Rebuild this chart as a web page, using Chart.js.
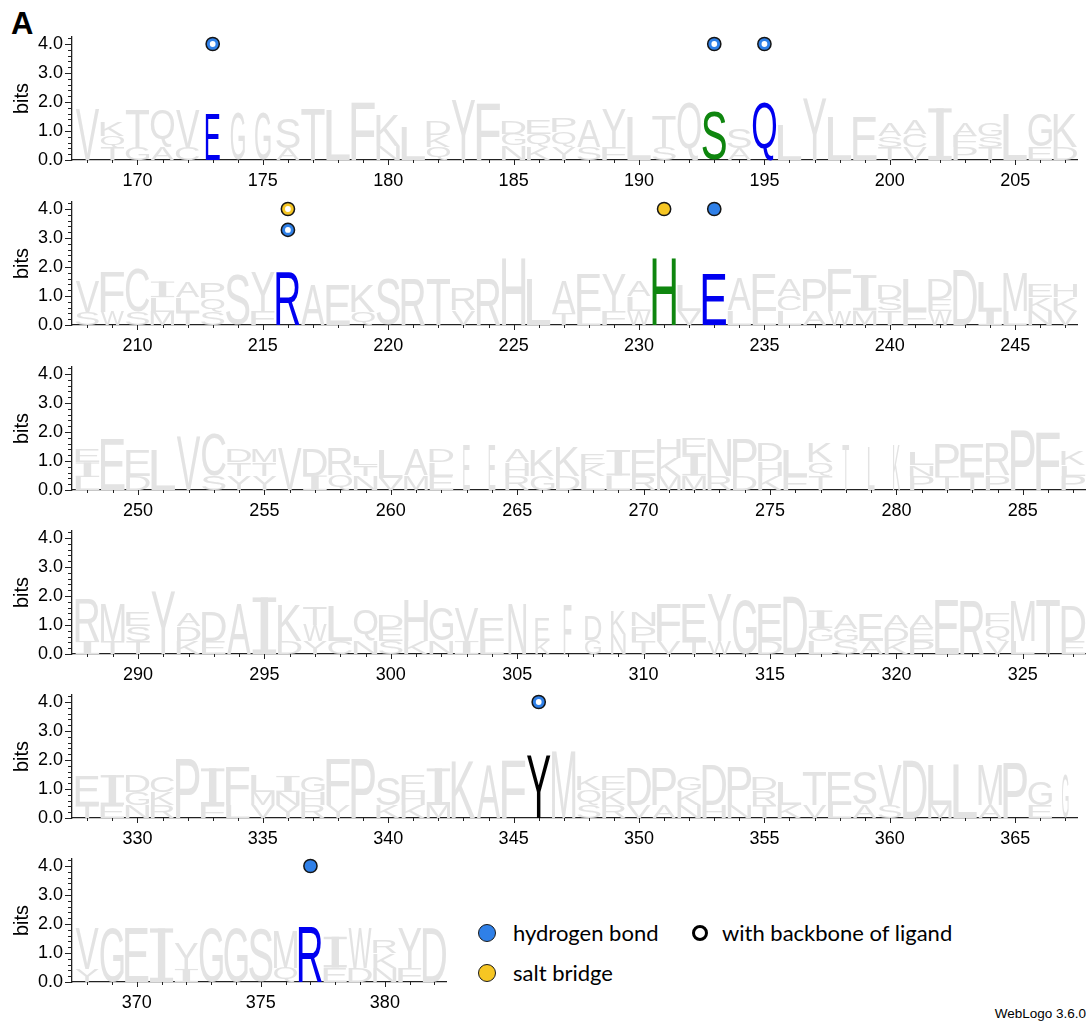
<!DOCTYPE html>
<html>
<head>
<meta charset="utf-8">
<script src="https://cdn.jsdelivr.net/npm/chart.js@4.4.1/dist/chart.umd.min.js"></script>
<style>
  html, body { margin: 0; padding: 0; background: #fff; }
  #wrap { position: relative; width: 1086px; height: 1023px; overflow: hidden; background: #fff; }
  #wrap canvas { position: absolute; left: 0; }
  .txt { position: absolute; white-space: nowrap; color: #000; }
  #panel { left: 11px; top: 6px; font: bold 31px "Liberation Sans", Arial, sans-serif; }
  #stamp { right: 0; top: 1006px; font: 13.5px "Liberation Sans", Arial, sans-serif; }
  .leg { font: 22px Lato, "Liberation Sans", sans-serif; line-height: 24px; }
  .dot { position: absolute; border-radius: 50%; box-sizing: border-box; }
</style>
</head>
<body>
<div id="wrap">
  <div class="txt" id="panel">A</div>
  <div class="dot" style="left:478px;top:924px;width:18px;height:18px;background:#2f80e8;border:1.5px solid #1a1a1a;"></div>
  <div class="txt leg" style="left:513px;top:921px;">hydrogen bond</div>
  <div class="dot" style="left:478px;top:964px;width:18px;height:18px;background:#f6c623;border:1.5px solid #1a1a1a;"></div>
  <div class="txt leg" style="left:513px;top:961px;">salt bridge</div>
  <div class="dot" style="left:692px;top:925px;width:16px;height:16px;background:#fff;border:3.5px solid #000;"></div>
  <div class="txt leg" style="left:722px;top:921px;">with backbone of ligand</div>
  <div class="txt" id="stamp">WebLogo 3.6.0</div>
</div>
<script>
// Residue numbering: each row starts here and holds one stack per residue.
const rowStarts = [168, 208, 248, 288, 328, 368];

// Stacks, bottom to top: letter followed by its height in bits.
const stacks168 = [
  "V1.78", "T.43 Q.40 K.50", "G.43 T1.33", "A.43 Q1.33", "C.43 V1.33",
  "E1.61", "G1.61", "G1.61", "A.40 S1.04", "T1.78",
  "L1.72", "F2.0", "N.5 K1.05", "L1.15", "Q.45 K.4 D.5",
  "Y2.07", "F1.95", "N.5 G.4 D.45", "K.45 Q.45 E.5", "Y.45 Q.5 P.5",
  "S.45 A.93", "F.45 Y1.33", "L1.5", "S.45 T1.05", "Q2.0",
  "S1.67", "A.4 S.7", "Q2.0", "L1.2", "Y2.1",
  "L1.5", "E1.5", "T.45 S.38 A.43", "V.45 C.45 A.48", "I1.78",
  "P.45 F.38 A.45", "T.45 S.38 G.45", "L1.6", "E.45 G1.15", "D.45 K1.15"
];
const stacks208 = [
  "S.46 V1.04", "W.46 F1.38", "S.46 C1.49", "M.46 L.5 I.54", "T.46 L.5 A.54",
  "S.46 Q.46 P.52", "S1.72", "F.46 Y1.38", "R1.84", "A1.38",
  "E1.38", "Q.46 K.92", "S1.6", "R1.6", "T1.6",
  "V.5 R.76", "R1.6", "H2.3", "L1.6", "T.4 A1.1",
  "L.5 E1.28", "F.5 Y1.28", "W.5 L.48 A.52", "H2.3", "V.5 L.88",
  "E1.78", "L.5 A1.1", "L.5 E1.28", "L.5 C.5 A.55", "A.5 P1.1",
  "W.5 F1.45", "M.5 I1.22", "T.5 S.4 D.48", "F.5 L1.1", "W.5 E.4 D.7",
  "D1.9", "I.5 L1.0", "L.5 M1.34", "N.5 K.45 E.43", "V.5 K.45 H.45"
];
const stacks248 = [
  "L.45 I.5 E.43", "E1.78", "D.5 E.88", "L1.38", "V1.84",
  "S.5 C1.45", "Y.5 T.45 D.43", "Y.5 T.45 M.43", "V1.44", "I.5 D.94",
  "Q.5 R.94", "N.5 T.35 L.3", "V.4 L.98", "M.5 A.88", "E.5 L.45 D.43",
  "E1.55", "E1.55", "R.5 H.45 A.45", "G.5 K.88", "D.5 K1.0",
  "L.5 K.4 E.36", "L.5 I.88", "R.5 E.88", "M.5 K.6 H.68", "M.5 I.7 E.58",
  "R.5 N1.28", "D.5 P1.28", "K.5 H.5 D.61", "F.5 L.88", "T.5 Q.45 K.66",
  "T1.55", "L1.5", "K1.55", "P.5 N.35 L.45", "T.5 P1.1",
  "T.5 E1.1", "P.5 R1.1", "P2.07", "F2.0", "P.5 L.35 K.5"
];
const stacks288 = [
  "I.45 R1.45", "T.45 M1.27", "T.45 S.5 E.47", "Y2.15", "K.45 D.5 A.42",
  "E.45 D.99", "A1.72", "I1.95", "D.45 K1.22", "Y.45 W.55 T.6",
  "C.45 L1.2", "N.45 Q1.05", "S.45 E.45 D.42", "K.45 H1.4", "N.45 G1.15",
  "I.45 V1.15", "L.45 E.8", "N1.72", "K.45 E.8", "F1.67",
  "G.5 D.85", "N.7 K.8", "T.45 P.5 N.5", "V.45 F1.27", "T.45 E1.27",
  "W.45 Y1.62", "G1.85", "D.45 E1.27", "D2.0", "L.45 G.45 I.6",
  "S.45 G.4 A.47", "A.45 E.93", "K.45 D.45 A.45", "P.45 E.45 A.45", "E1.85",
  "R1.85", "V.45 Q.5 F.45", "L.45 M1.38", "T1.85", "E.45 D1.2"
];
const stacks328 = [
  "T.45 E1.03", "E.45 I1.03", "N.45 G.45 D.55", "R.45 K.45 C.55", "P2.05",
  "F.45 I1.26", "L.45 F1.32", "V.45 M.45 L.55", "Y.45 N.45 I.55", "R.45 H.45 G.55",
  "Y.45 F1.6", "P2.05", "K.45 S.97", "K.45 H.45 E.55", "M.45 I1.26",
  "K1.94", "A1.83", "F2.0", "Y2.17", "M2.29",
  "S.45 Q.5 K.47", "R.45 K.5 E.47", "V.45 D1.26", "A.45 P1.26", "N.45 K.5 G.47",
  "H.45 D1.38", "N.45 P1.33", "T.45 R.5 D.42", "K.45 L.8", "V.45 T1.15",
  "L.45 E1.15", "A.45 S1.15", "S.45 V1.38", "D2.0", "M.45 L1.38",
  "L1.83", "A.45 M1.38", "P1.9", "E.45 G.8", "G1.48"
];
const stacks368 = [
  "Y.45 V1.4", "G1.85", "E1.85", "I1.85", "I.45 Y.88",
  "G1.85", "G1.85", "S1.85", "Q.5 M1.29", "R1.91",
  "E.5 I1.06", "D.5 W1.35", "N.5 K.5 R.45", "F.5 Y1.35", "D1.85"
];
const rowStacks = [stacks168, stacks208, stacks248, stacks288, stacks328, stacks368];

// Fraction of aligned sequences present at a residue (stack width).
const occupancy = {
  173: 0.6, 174: 0.6, 175: 0.66,
  263: 0.28, 264: 0.28, 278: 0.28, 279: 0.28, 280: 0.3,
  305: 0.75, 306: 0.6, 307: 0.33, 308: 0.68, 309: 0.62,
  367: 0.28
};

// Ligand contacts.
const hbondResidues = [173, 193, 195, 216, 233, 346, 377];
const hbondLevels   = [4.0, 4.0, 4.0, 3.28, 4.0, 4.0, 4.0];
const hbondBackbone = [true, true, true, true, false, true, false];
const saltResidues  = [216, 231];
const saltLevels    = [4.0, 4.0];
const saltBackbone  = [true, false];
const contactResidues = [173, 193, 195, 216, 231, 233, 346, 377];

const yTickValues = [0, 1, 2, 3, 4];

// Drawing constants
const BASELINES = [160, 325, 490, 654, 818, 982];
const PX_PER_BIT = 29;
const Y_MAX = 4.24;
const AXIS_W = 72;
const XAXIS_H = 30;
const GREY = '#e3e3e3';
const HBOND = '#2f80e8';
const SALT = '#f6c623';
const letterColors = { E: '#0000f0', Q: '#0000f0', R: '#0000f0', S: '#0f860f', H: '#0f860f', Y: '#000000' };
const GLYPH_FONT = '"Liberation Sans", Arial, sans-serif';
const AXIS_FONT = { family: '"Liberation Sans", Arial, sans-serif', size: 18 };

const glyphBoxes = {};
function glyphBox(ctx, ch) {
  if (!glyphBoxes[ch]) {
    ctx.save();
    ctx.font = '200px ' + GLYPH_FONT;
    const m = ctx.measureText(ch);
    glyphBoxes[ch] = { l: m.actualBoundingBoxLeft, r: m.actualBoundingBoxRight,
                       a: m.actualBoundingBoxAscent, d: m.actualBoundingBoxDescent };
    ctx.restore();
  }
  return glyphBoxes[ch];
}

function drawGlyph(ctx, ch, x, y, w, h, color) {
  if (w <= 0 || h <= 0) return;
  ctx.save();
  ctx.fillStyle = color;
  if (ch === 'I') {
    // Serifed I: full-width caps joined by a centred stem.
    const t = Math.max(1.2, h * 0.08);
    const sw = w * 0.32;
    ctx.fillRect(x, y, w, t);
    ctx.fillRect(x, y + h - t, w, t);
    ctx.fillRect(x + (w - sw) / 2, y, sw, h);
    ctx.restore();
    return;
  }
  const b = glyphBox(ctx, ch);
  const gw = b.l + b.r, gh = b.a + b.d;
  ctx.translate(x, y);
  ctx.scale(w / gw, h / gh);
  ctx.font = '200px ' + GLYPH_FONT;
  ctx.textAlign = 'left';
  ctx.textBaseline = 'alphabetic';
  ctx.fillText(ch, b.l, b.a);
  ctx.restore();
}

// Stretches each residue letter into the rectangle of its floating bar.
const logoLetters = {
  id: 'logoLetters',
  beforeDatasetsDraw(chart) {
    const ctx = chart.ctx;
    chart.data.datasets.forEach((ds, di) => {
      if (ds.type !== 'bar') return;
      const meta = chart.getDatasetMeta(di);
      meta.data.forEach((el, i) => {
        const raw = ds.data[i];
        const p = el.getProps(['x', 'y', 'base', 'width'], true);
        const w = p.width * (occupancy[raw.x] || 1);
        const top = Math.min(p.y, p.base);
        const h = Math.abs(p.base - p.y);
        const color = contactResidues.includes(raw.x) ? (letterColors[raw.letter] || '#000') : GREY;
        drawGlyph(ctx, raw.letter, p.x - w / 2, top, w, h, color);
      });
    });
  }
};

// Major and minor tick marks on both axes.
const tickMarks = {
  id: 'tickMarks',
  afterDraw(chart) {
    const { ctx, chartArea: ca, scales } = chart;
    const xs = scales.x, ys = scales.y;
    ctx.save();
    ctx.strokeStyle = '#222';
    ctx.lineWidth = 1;
    ctx.beginPath();
    for (let k = 0; k * 0.2 <= Y_MAX + 1e-9; k++) {
      const major = k % 5 === 0;
      const py = Math.round(ys.getPixelForValue(k * 0.2)) + 0.5;
      ctx.moveTo(ca.left - (major ? 7 : 4), py);
      ctx.lineTo(ca.left, py);
    }
    const first = Math.ceil(xs.min), last = Math.floor(xs.max);
    for (let v = first; v <= last; v++) {
      const major = v % 5 === 0;
      const px = Math.round(xs.getPixelForValue(v)) + 0.5;
      ctx.moveTo(px, ca.bottom);
      ctx.lineTo(px, ca.bottom + (major ? 5 : 3));
    }
    ctx.stroke();
    ctx.restore();
  }
};

function buildRow(r) {
  const start = rowStarts[r];
  const cols = rowStacks[r];
  const n = cols.length;
  const layers = [];
  cols.forEach((col, i) => {
    const pos = start + i;
    let base = 0;
    col.trim().split(/\s+/).forEach((tok, k) => {
      const h = parseFloat(tok.slice(1));
      (layers[k] = layers[k] || []).push({ x: pos, y: [base, base + h], letter: tok[0] });
      base += h;
    });
  });

  const end = start + n - 1;
  const inRow = (p) => p >= start && p <= end;

  const markerPts = [], markerCols = [], centerPts = [];
  hbondResidues.forEach((p, i) => {
    if (!inRow(p)) return;
    markerPts.push({ x: p, y: hbondLevels[i] }); markerCols.push(HBOND);
    if (hbondBackbone[i]) centerPts.push({ x: p, y: hbondLevels[i] });
  });
  saltResidues.forEach((p, i) => {
    if (!inRow(p)) return;
    markerPts.push({ x: p, y: saltLevels[i] }); markerCols.push(SALT);
    if (saltBackbone[i]) centerPts.push({ x: p, y: saltLevels[i] });
  });

  const datasets = layers.map((data) => ({
    type: 'bar', data, grouped: false,
    backgroundColor: 'rgba(0,0,0,0)', borderWidth: 0,
    barPercentage: 0.93, categoryPercentage: 1, order: 1
  }));
  datasets.push({
    type: 'scatter', data: markerPts, order: -1, clip: false,
    pointRadius: 6.6, pointBackgroundColor: markerCols,
    pointBorderColor: '#151515', pointBorderWidth: 1.5
  });
  datasets.push({
    type: 'scatter', data: centerPts, order: -2, clip: false,
    pointRadius: 2.9, pointBackgroundColor: '#ffffff', pointBorderWidth: 0
  });

  const width = r === 5 ? 455 : 1086;
  const height = 160 + XAXIS_H;
  const canvas = document.createElement('canvas');
  canvas.width = width; canvas.height = height;
  canvas.style.width = width + 'px'; canvas.style.height = height + 'px';
  canvas.style.top = (BASELINES[r] - 160) + 'px';
  document.getElementById('wrap').appendChild(canvas);

  new Chart(canvas, {
    type: 'bar',
    data: { datasets },
    options: {
      responsive: false, animation: false, devicePixelRatio: 1, events: [],
      layout: { padding: { top: 160 - Y_MAX * PX_PER_BIT, left: 0, right: 0, bottom: 0 } },
      plugins: { legend: { display: false }, tooltip: { enabled: false } },
      scales: {
        x: {
          type: 'linear', offset: false,
          min: start - 0.61, max: start + n - 0.5,
          grid: { display: false, drawTicks: false },
          border: { display: true, color: '#222', width: 1.3 },
          ticks: {
            stepSize: 5, includeBounds: false, autoSkip: false, maxRotation: 0,
            padding: 10, color: '#000', font: AXIS_FONT,
            callback: (v) => (v % 5 === 0 ? String(v) : '')
          },
          afterFit: (s) => { s.height = XAXIS_H; }
        },
        y: {
          type: 'linear', min: 0, max: Y_MAX,
          grid: { display: false, drawTicks: false },
          border: { display: true, color: '#222', width: 1.3 },
          afterBuildTicks: (s) => { s.ticks = yTickValues.map((v) => ({ value: v })); },
          ticks: { padding: 9, color: '#000', font: AXIS_FONT, callback: (v) => Number(v).toFixed(1) },
          title: { display: true, text: 'bits', color: '#000',
                   font: { family: '"Liberation Sans", Arial, sans-serif', size: 20 },
                   padding: { top: 10, bottom: 0 } },
          afterFit: (s) => { s.width = AXIS_W; }
        }
      }
    },
    plugins: [logoLetters, tickMarks]
  });
}

for (let r = 0; r < rowStarts.length; r++) buildRow(r);
</script>
</body>
</html>
